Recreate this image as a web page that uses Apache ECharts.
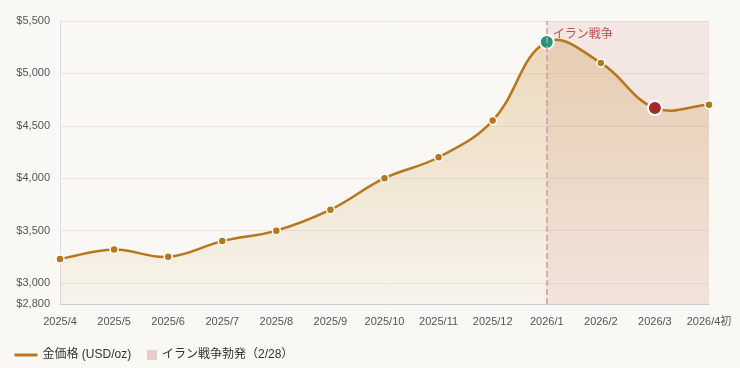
<!DOCTYPE html>
<html><head><meta charset="utf-8">
<script src="https://cdn.jsdelivr.net/npm/echarts@6/dist/echarts.min.js"></script>
<style>html,body{margin:0;padding:0;background:#f9f8f4;}#c{width:740px;height:368px;}</style>
</head><body><div id="c"></div>
<script>
const categories = ['2025/4','2025/5','2025/6','2025/7','2025/8','2025/9','2025/10','2025/11','2025/12','2026/1','2026/2','2026/3','2026/4初'];
const goldPrices = [3230, 3320, 3250, 3400, 3500, 3700, 4000, 4200, 4550, 5300, 5100, 4670, 4700];
const yTicks = [2800, 3000, 3500, 4000, 4500, 5000, 5500];
const peakIndex = 9;
const lowIndex = 11;
const warStart = '2026/1';
const warEnd = '2026/4初';
const seriesName = '金価格 (USD/oz)';
const warName = 'イラン戦争勃発（2/28）';
const warLabel = 'イラン戦争';

const FONT = '"Liberation Sans", "Noto Sans CJK JP", sans-serif';
const lineColor = '#b8761c';
const Y_MIN = 2800, Y_MAX = 5500;
const TENSION = 0.4;

const data = goldPrices.map((v, i) => {
  if (i === peakIndex) return {value: v, symbolSize: 14, itemStyle: {color: '#22987a', borderColor: '#fff', borderWidth: 2}};
  if (i === lowIndex) return {value: v, symbolSize: 14, itemStyle: {color: '#a3292b', borderColor: '#fff', borderWidth: 2}};
  return v;
});

function splinePath(pts) {
  const n = pts.length;
  const cps = pts.map((p, i) => {
    const prev = pts[Math.max(0, i - 1)], next = pts[Math.min(n - 1, i + 1)];
    const d01 = Math.hypot(p[0] - prev[0], p[1] - prev[1]);
    const d12 = Math.hypot(next[0] - p[0], next[1] - p[1]);
    let s01 = d01 / (d01 + d12), s12 = d12 / (d01 + d12);
    if (!isFinite(s01)) s01 = 0; if (!isFinite(s12)) s12 = 0;
    const fa = TENSION * s01, fb = TENSION * s12;
    return {
      prev: [p[0] - fa * (next[0] - prev[0]), p[1] - fa * (next[1] - prev[1])],
      next: [p[0] + fb * (next[0] - prev[0]), p[1] + fb * (next[1] - prev[1])]
    };
  });
  let d = 'M' + pts[0][0] + ',' + pts[0][1];
  for (let i = 1; i < n; i++) {
    const c1 = cps[i - 1].next, c2 = cps[i].prev;
    d += ' C' + c1[0] + ',' + c1[1] + ' ' + c2[0] + ',' + c2[1] + ' ' + pts[i][0] + ',' + pts[i][1];
  }
  return d;
}

const chart = echarts.init(document.getElementById('c'));
chart.setOption({
  backgroundColor: '#f9f8f4',
  textStyle: {fontFamily: FONT},
  animation: false,
  grid: {left: 60, right: 31, top: 21, bottom: 64},
  legend: [{
    left: 8, top: 344, itemWidth: 23, itemHeight: 10, itemGap: 16,
    textStyle: {fontFamily: FONT, fontSize: 12, color: '#333'},
    lineStyle: {color: lineColor, width: 3, opacity: 1},
    itemStyle: {opacity: 0},
    data: [seriesName]
  }, {
    left: 142, top: 344, itemWidth: 10, itemHeight: 10,
    textStyle: {fontFamily: FONT, fontSize: 12, color: '#333'},
    data: [{name: warName, icon: 'rect'}]
  }],
  xAxis: {
    type: 'category', data: categories, boundaryGap: false,
    axisLine: {lineStyle: {color: '#cccccc'}},
    axisTick: {show: false},
    axisLabel: {interval: 0, color: '#555', fontSize: 11, margin: 12, fontFamily: FONT}
  },
  yAxis: {
    type: 'value', min: Y_MIN, max: Y_MAX,
    axisLine: {show: true, lineStyle: {color: '#dddddd'}},
    axisTick: {show: false, customValues: yTicks},
    axisLabel: {customValues: yTicks, color: '#555', fontSize: 11, margin: 10, fontFamily: FONT,
      formatter: v => '$' + v.toLocaleString('en-US')},
    splitLine: {lineStyle: {color: '#e9e6e1'}}
  },
  series: [
    {
      name: 'curve', type: 'custom', silent: true, z: 2,
      data: goldPrices.map((v, i) => [i, v]),
      encode: {x: 0, y: 1},
      renderItem: (params, api) => {
        if (params.dataIndex !== 0) return null;
        const pts = goldPrices.map((v, i) => api.coord([i, v]));
        const base = api.coord([0, Y_MIN])[1];
        const line = splinePath(pts);
        const area = line + ' L' + pts[pts.length - 1][0] + ',' + base + ' L' + pts[0][0] + ',' + base + ' Z';
        return {type: 'group', children: [
          {type: 'path', shape: {pathData: area}, style: {
            fill: new echarts.graphic.LinearGradient(0, 0, 0, 1, [
              {offset: 0, color: 'rgba(205,150,70,0.32)'},
              {offset: 1, color: 'rgba(205,150,70,0.05)'}
            ])}},
          {type: 'path', shape: {pathData: line}, style: {fill: 'none', stroke: lineColor, lineWidth: 2.5}}
        ]};
      }
    },
    {
      name: seriesName, type: 'line', data: data,
      symbol: 'circle', symbolSize: 8, z: 3,
      lineStyle: {color: lineColor, width: 0, opacity: 0},
      itemStyle: {color: lineColor, borderColor: '#fff', borderWidth: 1.5},
      markLine: {
        silent: true, symbol: 'none',
        lineStyle: {color: '#d49a9a', type: 'dashed', width: 1.5},
        label: {show: false},
        data: [{xAxis: warStart}]
      },
      markArea: {
        silent: true,
        itemStyle: {color: 'rgba(215,150,150,0.17)'},
        label: {show: true, position: 'insideTopLeft', color: '#c0504d', fontSize: 12, fontFamily: FONT, distance: 6, offset: [0, 2]},
        data: [[{xAxis: warStart, name: warLabel}, {xAxis: warEnd}]]
      }
    },
    {
      name: warName, type: 'line', data: [],
      itemStyle: {color: '#e8cdca'}, lineStyle: {color: '#e8cdca'}
    }
  ]
});
</script>
</body></html>
